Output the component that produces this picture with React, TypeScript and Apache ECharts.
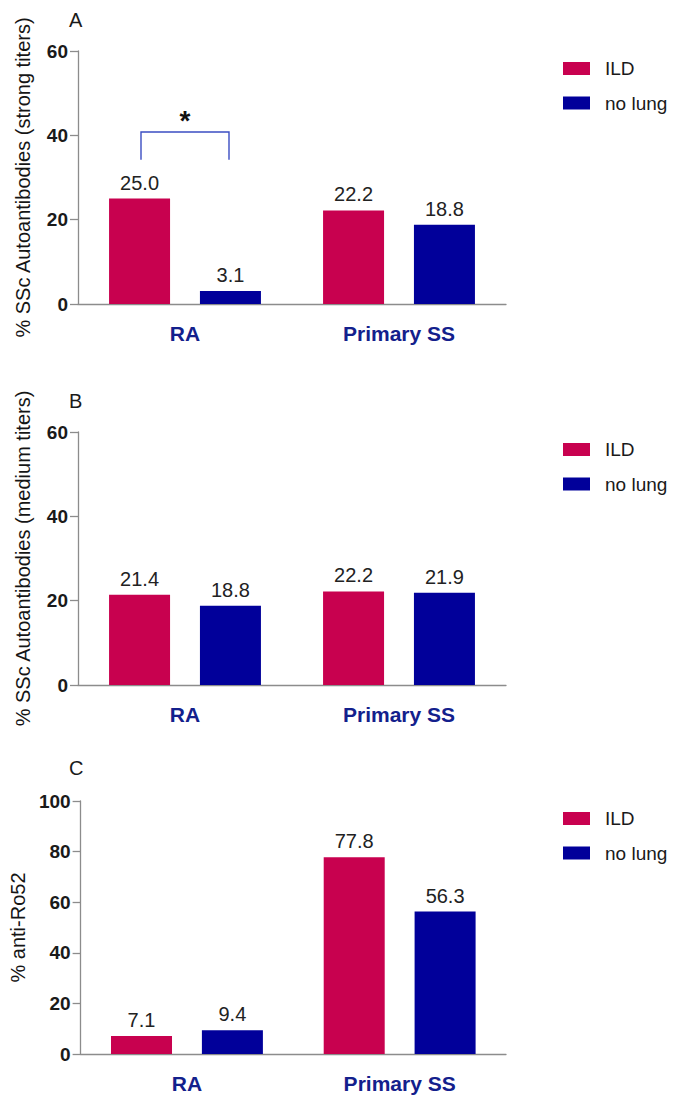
import React, { useEffect, useRef } from "react";
import * as echarts from "echarts";

const categories = ["RA", "Primary SS"];
const seriesNames = ["ILD", "no lung"];

const strongILD = [25.0, 22.2];
const strongNoLung = [3.1, 18.8];
const mediumILD = [21.4, 22.2];
const mediumNoLung = [18.8, 21.9];
const ro52ILD = [7.1, 77.8];
const ro52NoLung = [9.4, 56.3];

const panelLetters = ["A", "B", "C"];
const yTitles = [
  "% SSc Autoantibodies (strong titers)",
  "% SSc Autoantibodies (medium titers)",
  "% anti-Ro52",
];
const yMax = [60, 60, 100];
const yInterval = 20;

// significance bracket: [category index, top value, leg bottom value]
const bracketData = [[0, 40.8, 34.2]];

const ILD_COLOR = "#C8014F";
const NOLUNG_COLOR = "#01009A";
const AXIS_COLOR = "#8c8c8c";
const FONT = "Liberation Sans, Arial, sans-serif";

export default function App() {
  const ref = useRef<HTMLDivElement>(null);

  useEffect(() => {
    if (!ref.current) return;
    const chart = echarts.init(ref.current, undefined, { renderer: "svg" });

    const gridTops = [51, 432, 801];
    const gridHeight = 253;
    const legendTops = [58.5, 439.5, 808.5];
    const letterTops = [10, 391, 758];

    const grids = gridTops.map((t) => ({
      left: 78,
      top: t,
      width: 428,
      height: gridHeight,
      containLabel: false,
    }));

    const xAxes = gridTops.map((_, i) => ({
      type: "category",
      gridIndex: i,
      data: categories,
      axisTick: { show: false },
      axisLine: { show: true, lineStyle: { color: AXIS_COLOR, width: 1.3 } },
      axisLabel: {
        color: "#13208C",
        fontWeight: "bold",
        fontSize: 21,
        fontFamily: FONT,
        margin: 19,
      },
      splitLine: { show: false },
    }));

    const yAxes = gridTops.map((_, i) => ({
      type: "value",
      gridIndex: i,
      min: 0,
      max: yMax[i],
      interval: yInterval,
      name: yTitles[i],
      nameLocation: "middle",
      nameGap: 45,
      nameTextStyle: {
        color: "#151515",
        fontSize: 20,
        fontFamily: FONT,
      },
      axisLine: { show: true, lineStyle: { color: AXIS_COLOR, width: 1.3 } },
      axisTick: {
        show: true,
        inside: false,
        length: 8,
        lineStyle: { color: AXIS_COLOR, width: 1.3 },
      },
      axisLabel: {
        color: "#1a1a1a",
        fontWeight: "bold",
        fontSize: 19,
        fontFamily: FONT,
        margin: 10,
      },
      splitLine: { show: false },
    }));

    const dataSets = [
      [strongILD, strongNoLung],
      [mediumILD, mediumNoLung],
      [ro52ILD, ro52NoLung],
    ];

    const barSeries: any[] = [];
    dataSets.forEach((pair, gi) => {
      pair.forEach((vals, si) => {
        barSeries.push({
          type: "bar",
          name: seriesNames[si],
          xAxisIndex: gi,
          yAxisIndex: gi,
          data: vals,
          barWidth: 61,
          barGap: "49%",
          itemStyle: { color: si === 0 ? ILD_COLOR : NOLUNG_COLOR },
          label: {
            show: true,
            position: "top",
            distance: 6,
            color: "#222",
            fontSize: 20,
            fontFamily: FONT,
            formatter: (p: any) => Number(p.value).toFixed(1),
          },
          silent: true,
        });
      });
    });

    const bracketSeries = {
      type: "custom",
      name: "significance",
      xAxisIndex: 0,
      yAxisIndex: 0,
      data: bracketData,
      silent: true,
      z: 5,
      renderItem: (params: any, api: any) => {
        const top = api.coord([api.value(0), api.value(1)]);
        const bottom = api.coord([api.value(0), api.value(2)]);
        const off = 44;
        return {
          type: "group",
          children: [
            {
              type: "polyline",
              shape: {
                points: [
                  [top[0] - off, bottom[1]],
                  [top[0] - off, top[1]],
                  [top[0] + off, top[1]],
                  [top[0] + off, bottom[1]],
                ],
              },
              style: { stroke: "#3B4DC2", lineWidth: 1.4, fill: "none" },
            },
            {
              type: "text",
              x: top[0],
              y: top[1] + 3,
              style: {
                text: "*",
                fontSize: 28,
                fontWeight: "bold",
                fontFamily: FONT,
                fill: "#111",
                align: "center",
                verticalAlign: "bottom",
              },
            },
          ],
        };
      },
    };

    const legends = legendTops.map((t) => ({
      data: seriesNames,
      orient: "vertical",
      left: 563,
      top: t,
      padding: 0,
      itemWidth: 27,
      itemHeight: 13,
      itemGap: 14.5,
      selectedMode: false,
      icon: "rect",
      textStyle: {
        color: "#1a1a1a",
        fontSize: 19,
        fontFamily: FONT,
        lineHeight: 20,
        padding: [0, 0, 0, 10],
      },
    }));

    const graphics = panelLetters.map((l, i) => ({
      type: "text",
      left: 69,
      top: letterTops[i],
      style: {
        text: l,
        fontSize: 20,
        fontFamily: FONT,
        fill: "#1a1a1a",
      },
    }));

    chart.setOption({
      animation: false,
      backgroundColor: "#ffffff",
      textStyle: { fontFamily: FONT },
      grid: grids,
      xAxis: xAxes,
      yAxis: yAxes,
      legend: legends,
      graphic: graphics,
      series: [...barSeries, bracketSeries],
    });

    return () => chart.dispose();
  }, []);

  return (
    <div
      ref={ref}
      style={{ position: "absolute", left: 0, top: 0, width: 675, height: 1095 }}
    />
  );
}
